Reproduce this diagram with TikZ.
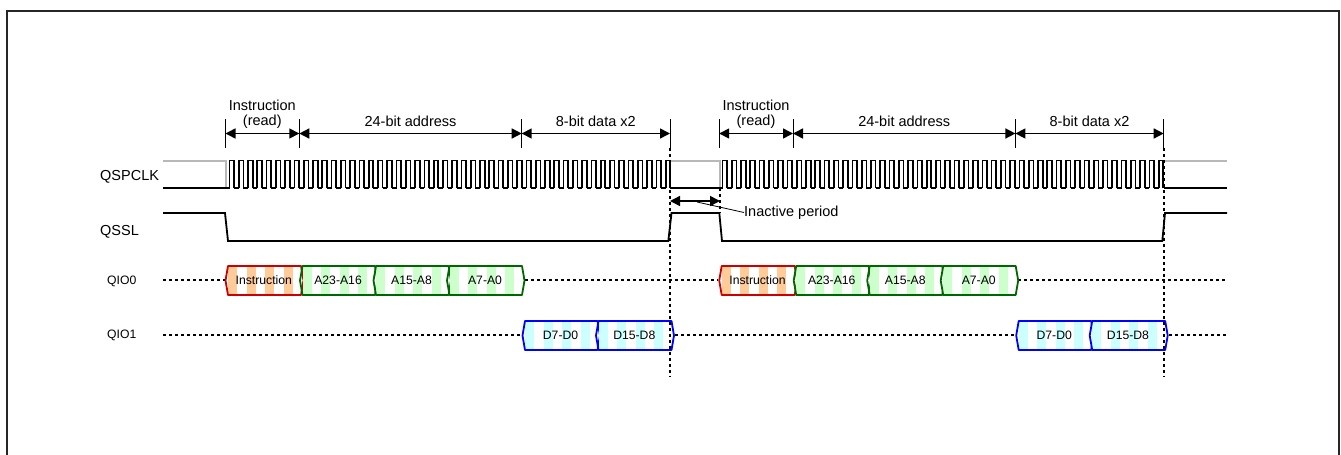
\documentclass[tikz,border=0pt]{standalone}
\usepackage{fontspec}
\setmainfont{Liberation Sans}
\usetikzlibrary{arrows.meta}
\definecolor{orangefill}{RGB}{255,204,153}
\definecolor{greenfill}{RGB}{204,255,204}
\definecolor{cyanfill}{RGB}{204,255,255}
\definecolor{redline}{RGB}{204,0,0}
\definecolor{greenline}{RGB}{0,102,0}
\definecolor{blueline}{RGB}{0,0,255}
\tikzset{
  wave/.style={black,line width=1.8pt,line join=miter},
  clockline/.style={black,line width=1.7pt,line join=miter},
  ghost/.style={black!28,line width=2pt},
  dim/.style={black,line width=1.5pt,{Triangle[length=10pt,width=10pt]}-{Triangle[length=10pt,width=10pt]}},
  tick/.style={black,line width=0.9pt},
  leader/.style={black,line width=0.8pt},
  dots/.style={black,line width=1.7pt,dash pattern=on 3pt off 3pt},
  siglabel/.style={font=\fontsize{14.5}{15}\selectfont,inner sep=0pt,anchor=west},
  smallsig/.style={font=\fontsize{12.2}{13}\selectfont,inner sep=0pt,anchor=west},
  dimlabel/.style={font=\fontsize{14.5}{15}\selectfont,inner sep=0pt,align=center},
  buslabel/.style={font=\fontsize{12.2}{13}\selectfont,inner sep=0pt},
}
% #1 x0, #2 width, #3 top y, #4 fill, #5 line, #6 label, #7 name
\newcommand{\busseg}[7]{%
  \begin{scope}
    \clip (#1,#3) -- (#1+#2,#3) -- (#1+#2+2.5,#3+14.5) -- (#1+#2,#3+29) -- (#1,#3+29) -- (#1-2.5,#3+14.5) -- cycle;
    \foreach \k in {0,1,2,3} {\fill[#4] (#1+18.5*\k,#3-2) rectangle ++(9.25,33);}
  \end{scope}
  \draw[#5,line width=1.8pt,line join=round] (#1,#3) -- (#1+#2,#3) -- (#1+#2+2.5,#3+14.5) -- (#1+#2,#3+29) -- (#1,#3+29) -- (#1-2.5,#3+14.5) -- cycle;
  \node[buslabel] (#7) at (#1+#2/2-0.7,#3+14.5) {#6};
}
\begin{document}
\begin{tikzpicture}[x=1pt,y=-1pt]
\useasboundingbox (0,0) rectangle (1341,455);
\draw[black!85,line width=1.8pt] (7,455) -- (7,11) -- (1339,11) -- (1339,455);

% signal names
\node[siglabel] (lclk) at (100,176.5) {QSPCLK};
\node[siglabel] (lssl) at (100,231.5) {QSSL};
\node[smallsig] (lio0) at (107,281) {QIO0};
\node[smallsig] (lio1) at (107,335.5) {QIO1};

% clock idle
\draw[ghost] (163,160.5) -- (226,160.5) -- (226,188);
\draw[ghost] (670,160.5) -- (719.5,160.5) -- (719.5,188);
\draw[ghost] (1164,160.5) -- (1227,160.5);
\draw[wave] (163,188) -- (229.5,188);
\draw[wave] (670,188) -- (722.5,188);
\draw[wave] (1164,188) -- (1227,188);
\foreach \x in {229.5,722.5} {
  \foreach \n in {0,...,47} {
    \pgfmathsetmacro{\a}{\x+9.28*\n}
    \draw[clockline] (\a,188) -- (\a,160.5) -- (\a+4.64,160.5) -- (\a+4.64,188);
    \ifnum\n<47 \draw[clockline] (\a+4.64,188) -- (\a+9.28,188); \fi
  }
}

% QSSL
\draw[wave] (163,213) -- (225,213) -- (228,241) -- (668.3,241) -- (671.5,213) -- (719.3,213) -- (722,241) -- (1162.3,241) -- (1165,213) -- (1227,213);

% dotted lines
\coordinate (d0a) at (163,280); \coordinate (d0b) at (226,280);
\coordinate (d0c) at (525,280); \coordinate (d0d) at (718,280);
\coordinate (d0e) at (1018,280); \coordinate (d0f) at (1227,280);
\draw[dots] (d0a) -- (d0b); \draw[dots] (d0c) -- (d0d); \draw[dots] (d0e) -- (d0f);
\coordinate (d1a) at (163,335); \coordinate (d1b) at (521,335);
\coordinate (d1c) at (675,335); \coordinate (d1d) at (1014,335);
\coordinate (d1e) at (1169,335); \coordinate (d1f) at (1227,335);
\draw[dots] (d1a) -- (d1b); \draw[dots] (d1c) -- (d1d); \draw[dots] (d1e) -- (d1f);

% bus segments
\foreach \o/\p in {0/a,493.7/b} {
  \busseg{228+\o}{73}{266}{orangefill}{redline}{Instruction}{ins\p}
  \busseg{302.5+\o}{72.5}{266}{greenfill}{greenline}{A23-A16}{ah\p}
  \busseg{376+\o}{72.5}{266}{greenfill}{greenline}{A15-A8}{am\p}
  \busseg{449.5+\o}{72.5}{266}{greenfill}{greenline}{A7-A0}{al\p}
  \busseg{525+\o}{72.5}{321}{cyanfill}{blueline}{D7-D0}{dl\p}
  \busseg{598.5+\o}{73}{321}{cyanfill}{blueline}{D15-D8}{dh\p}
}

% vertical markers and dimension arrows
\foreach \o/\p in {0/a,493.7/b} {
  \coordinate (t1\p) at (225.5+\o,133.5);
  \coordinate (t2\p) at (299.3+\o,133.5);
  \coordinate (t3\p) at (521.7+\o,133.5);
  \coordinate (t4\p) at (670+\o,133.5);
  \draw[tick] (225.5+\o,119) -- (225.5+\o,148);
  \draw[tick] (299.3+\o,119) -- (299.3+\o,148);
  \draw[tick] (521.7+\o,119) -- (521.7+\o,148);
  \draw[tick] (670+\o,119) -- (670+\o,148);
  \draw[dots] (670+\o,148) -- (670+\o,377);
  \draw[dim] (t1\p) -- (t2\p);
  \draw[dim] (t2\p) -- (t3\p);
  \draw[dim] (t3\p) -- (t4\p);
  \node[dimlabel] (li\p) at (262.3+\o,114) {Instruction\\(read)};
  \node[dimlabel] (la\p) at (410.5+\o,121) {24-bit address};
  \node[dimlabel] (ld\p) at (595.8+\o,121) {8-bit data x2};
}

% inactive period
\draw[dots] (720,188) -- (720,213);
\coordinate (ia) at (670,201);
\coordinate (ib) at (720,201);
\draw[dim] (ia) -- (ib);
\node[dimlabel,anchor=west] (lin) at (744,212.5) {Inactive period};
\coordinate (lea) at (697,202);
\draw[leader] (lea) -- (lin.west);
\end{tikzpicture}
\end{document}
